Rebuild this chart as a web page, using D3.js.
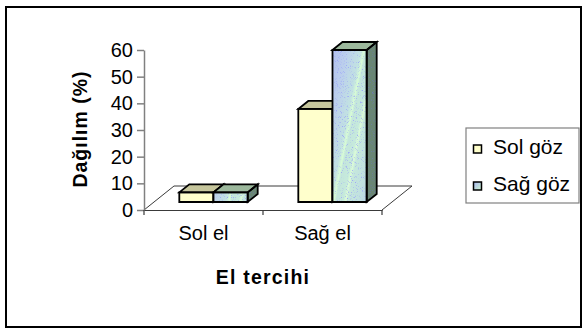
<!DOCTYPE html>
<html>
<head>
<meta charset="utf-8">
<script src="https://cdn.jsdelivr.net/npm/d3@7/dist/d3.min.js"></script>
<style>
  html, body { margin: 0; padding: 0; background: #fff; }
  svg { display: block; }
  text { font-family: "Liberation Sans", Arial, sans-serif; fill: #000; }
</style>
</head>
<body>
<svg id="chart" width="583" height="330"></svg>
<script>
// Hand preference (categories) vs. eye preference (series), in percent
const categories = ["Sol el", "Sağ el"];
const seriesNames = ["Sol göz", "Sağ göz"];
const solGoz = [3.6, 34.9];
const sagGoz = [3.6, 57.0];
const yTicks = [0, 10, 20, 30, 40, 50, 60];
const xTitle = "El tercihi";
const yTitle = "Dağılım (%)";

(function draw() {
const svg = d3.select("#chart");
const defs = svg.append("defs");

svg.append("rect").attr("width", 583).attr("height", 330).attr("fill", "#fff");
svg.append("rect")
  .attr("x", 6).attr("y", 7).attr("width", 575).attr("height", 320)
  .attr("fill", "none").attr("stroke", "#000").attr("stroke-width", 2);

// plot geometry (front plane of the 3D floor)
const plotLeft = 144, plotRight = 382, plotBase = 210, plotTop = 50;
const depthX = 30, depthY = -24;              // full floor depth offset
const barDX = depthX / 3, barDY = depthY / 3; // bars occupy the middle third

const x = d3.scaleBand().domain(categories).range([plotLeft, plotRight]);
const inner = d3.scaleBand().domain(seriesNames).range([0, x.bandwidth()])
  .paddingInner(0).paddingOuter(0.74);
const y = d3.scaleLinear().domain([0, 60]).range([plotBase, plotTop]);

// speckle filters: sprinkle coloured dots over a face, clipped to its shape
function speckle(id, rgb, gain, offset, seed) {
  const f = defs.append("filter").attr("id", id)
    .attr("color-interpolation-filters", "sRGB")
    .attr("x", 0).attr("y", 0).attr("width", 1).attr("height", 1);
  f.append("feTurbulence").attr("type", "fractalNoise").attr("baseFrequency", 1.2)
    .attr("numOctaves", 2).attr("seed", seed).attr("result", "noise");
  f.append("feColorMatrix").attr("in", "noise").attr("type", "matrix")
    .attr("values", `0 0 0 0 ${rgb[0]}  0 0 0 0 ${rgb[1]}  0 0 0 0 ${rgb[2]}  ${gain} 0 0 0 ${offset}`)
    .attr("result", "dots");
  f.append("feComposite").attr("in", "dots").attr("in2", "SourceAlpha")
    .attr("operator", "in").attr("result", "clipped");
  const fm = f.append("feMerge");
  fm.append("feMergeNode").attr("in", "SourceGraphic");
  fm.append("feMergeNode").attr("in", "clipped");
}
speckle("speckleFront", [0.62, 0.66, 0.97], 5, -3.0, 7);
speckle("speckleSide", [0.42, 0.48, 0.70], 4, -2.4, 11);

// legend swatch gradient
const lg = defs.append("linearGradient").attr("id", "swatch2")
  .attr("x1", 0).attr("y1", 0).attr("x2", 1).attr("y2", 1);
lg.append("stop").attr("offset", 0).attr("stop-color", "#a9b6f2");
lg.append("stop").attr("offset", 1).attr("stop-color", "#ccf6cc");

// floor
svg.append("path")
  .attr("d", d3.line()([[plotLeft, plotBase], [plotLeft + depthX, plotBase + depthY],
                        [plotRight + depthX, plotBase + depthY], [plotRight, plotBase]]))
  .attr("fill", "none").attr("stroke", "#3a3a3a").attr("stroke-width", 1);

// y axis
const yAxis = svg.append("g")
  .attr("transform", `translate(${plotLeft},0)`)
  .call(d3.axisLeft(y).tickValues(yTicks).tickSize(7).tickSizeOuter(0).tickPadding(4));
yAxis.select(".domain").attr("stroke", "#808080").attr("stroke-width", 1.5);
yAxis.selectAll(".tick line").attr("stroke", "#808080").attr("stroke-width", 1.5);
yAxis.selectAll(".tick text").style("font-size", "20px")
  .style("font-family", "'Liberation Sans', Arial, sans-serif").attr("fill", "#000");

// x axis: front floor edge with boundary ticks and category labels
const xAxis = svg.append("g")
  .attr("transform", `translate(0,${plotBase})`)
  .call(d3.axisBottom(x).tickSize(0).tickPadding(16));
xAxis.select(".domain").attr("stroke", "#3a3a3a").attr("stroke-width", 1);
xAxis.selectAll(".tick text").style("font-size", "20px")
  .style("font-family", "'Liberation Sans', Arial, sans-serif").attr("fill", "#000");
const edges = categories.map(c => x(c)).concat([x(categories[categories.length - 1]) + x.bandwidth()]);
svg.append("g").selectAll("line").data(edges).join("line")
  .attr("x1", d => d).attr("x2", d => d)
  .attr("y1", plotBase).attr("y2", plotBase + 5)
  .attr("stroke", "#3a3a3a").attr("stroke-width", 1.2);

// 3D bars
const styles = {
  "Sol göz": { front: "#ffffcc", top: "#c6c69c", side: "#a8a880", texture: false },
  "Sağ göz": { front: "#c4e6dc", top: "#9cb89c", side: "#6a8674", texture: true }
};
const series = [
  { name: seriesNames[0], values: solGoz },
  { name: seriesNames[1], values: sagGoz }
];
const bars = svg.append("g");
const poly = pts => "M" + pts.map(p => p.join(",")).join("L") + "Z";

categories.forEach((cat, ci) => {
  series.forEach((s) => {
    const v = s.values[ci];
    const st = styles[s.name];
    const w = inner.bandwidth();
    const x0 = x(cat) + inner(s.name) + barDX;
    const yb = y(0) + barDY;
    const yt = y(v) + barDY;
    const g = bars.append("g");

    const topFace = poly([[x0, yt], [x0 + barDX, yt + barDY], [x0 + w + barDX, yt + barDY], [x0 + w, yt]]);
    const sideFace = poly([[x0 + w, yt], [x0 + w + barDX, yt + barDY], [x0 + w + barDX, yb + barDY], [x0 + w, yb]]);
    const frontFace = poly([[x0, yt], [x0 + w, yt], [x0 + w, yb], [x0, yb]]);

    g.append("path").attr("d", topFace).attr("fill", st.top);
    const side = g.append("path").attr("d", sideFace).attr("fill", st.side);

    let frontFill = st.front;
    if (st.texture) {
      // diagonal light stripes running from lower left to upper right
      const gid = `stripe-${ci}`;
      const cx = x0 + w / 2, cy = (yt + yb) / 2;
      const lgr = defs.append("linearGradient").attr("id", gid)
        .attr("gradientUnits", "userSpaceOnUse")
        .attr("x1", cx - w).attr("y1", cy - 0.2 * w)
        .attr("x2", cx + w).attr("y2", cy + 0.2 * w);
      [[0, "#b0bcf0"], [0.25, "#bcd0ec"], [0.44, "#c2e2e2"], [0.49, "#d8fcd6"], [0.52, "#c4e6dc"],
       [0.62, "#c6eadc"], [0.655, "#dcfcd8"], [0.685, "#c6e8dc"], [0.85, "#c0e0e0"], [1, "#b8d0e8"]]
        .forEach(([o, c]) => lgr.append("stop").attr("offset", o).attr("stop-color", c));
      frontFill = `url(#${gid})`;
      side.attr("filter", "url(#speckleSide)");
    }
    const front = g.append("path").attr("d", frontFace).attr("fill", frontFill);
    if (st.texture) front.attr("filter", "url(#speckleFront)");

    // outlines
    [topFace, sideFace, frontFace].forEach(d =>
      g.append("path").attr("d", d).attr("fill", "none")
        .attr("stroke", "#000").attr("stroke-width", 1.8).attr("stroke-linejoin", "miter"));
  });
});

// axis titles
svg.append("text")
  .attr("transform", `translate(87,129) rotate(-90)`)
  .attr("text-anchor", "middle")
  .style("font-size", "19.5px").style("font-weight", "bold").style("letter-spacing", "1px")
  .text(yTitle);
svg.append("text")
  .attr("x", 263).attr("y", 284).attr("text-anchor", "middle")
  .style("font-size", "19.5px").style("font-weight", "bold").style("letter-spacing", "1.2px")
  .text(xTitle);

// legend
const legend = svg.append("g");
legend.append("rect")
  .attr("x", 466).attr("y", 128).attr("width", 113).attr("height", 75)
  .attr("fill", "#fff").attr("stroke", "#808080").attr("stroke-width", 1.2);
const items = legend.selectAll("g.item").data(seriesNames).join("g")
  .attr("class", "item")
  .attr("transform", (d, i) => `translate(0,${i * 37})`);
items.append("rect")
  .attr("x", 473.5).attr("y", 145).attr("width", 8).attr("height", 8)
  .attr("fill", (d, i) => i === 0 ? styles[d].front : "url(#swatch2)")
  .attr("stroke", "#000").attr("stroke-width", 1.5);
items.append("text")
  .attr("x", 493).attr("y", 153.5)
  .style("font-size", "21px")
  .text(d => d);
})();
</script>
</body>
</html>
